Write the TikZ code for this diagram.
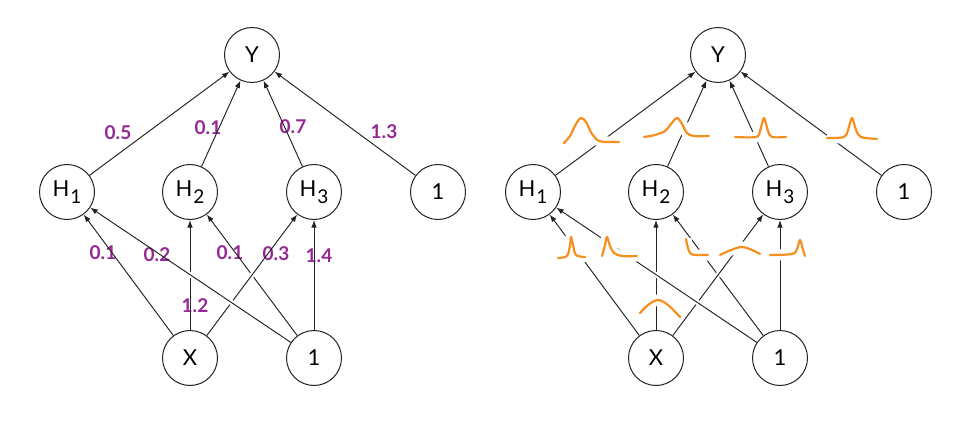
\documentclass[tikz,border=0pt]{standalone}
\usepackage{fontspec}
\setmainfont{Lato}
\usetikzlibrary{arrows.meta,calc}
\definecolor{wpurple}{RGB}{150,40,150}
\definecolor{bumpc}{RGB}{247,143,30}
\definecolor{lnc}{RGB}{35,35,35}
\newcommand\hsub[1]{H\hspace{1pt}\raisebox{-7pt}{\fontsize{19}{19}\selectfont #1}}
\newcommand\netdiagram[2]{%
\begin{scope}[xshift=#2]
\node[nd] (#1Y) at (252,55) {Y};
\node[nd] (#1H1) at (67,192) {\hsub{1}};
\node[nd] (#1H2) at (190,192) {\hsub{2}};
\node[nd] (#1H3) at (314,192) {\hsub{3}};
\node[nd] (#1B1) at (438,192) {1};
\node[nd] (#1X) at (190,358) {X};
\node[nd] (#1B2) at (314,358) {1};
\end{scope}
\draw[edge] (#1H1) -- (#1Y);
\draw[edge] (#1H2) -- (#1Y);
\draw[edge] (#1H3) -- (#1Y);
\draw[edge] (#1B1) -- (#1Y);
\draw[edge] (#1X) -- (#1H1);
\draw[edge] (#1B2) -- (#1H3);
\draw[edge] (#1B2) -- (#1H2);
\draw[gap] ($(#1X)!0.2!(#1H3)$) -- ($(#1X)!0.6!(#1H3)$);
\draw[edge] (#1X) -- (#1H3);
\draw[edge] (#1X) -- (#1H2);
\draw[gap] ($(#1B2)!0.2!(#1H1)$) -- ($(#1B2)!0.56!(#1H1)$);
\draw[edge] (#1B2) -- (#1H1);
}
\begin{document}
\begin{tikzpicture}[x=1pt,y=-1pt,
  nd/.style={circle,draw=lnc,line width=1pt,minimum size=55pt,inner sep=0pt,
    font=\fontsize{22}{22}\selectfont},
  edge/.style={draw=lnc,line width=0.95pt,-{Latex[length=7.5pt,width=5.5pt]}},
  gap/.style={draw=white,line width=5pt},
  wlab/.style={text=wpurple,inner sep=0pt,font=\bfseries\fontsize{19}{19}\selectfont},
  bumpln/.style={draw=bumpc,line width=2.2pt,line cap=round,line join=round,
    preaction={draw=white,line width=11pt}}]
\useasboundingbox[fill=white] (0,0) rectangle (968,422);
% weight labels (left)
\node[wlab] (w1) at (118,133) {0.5};
\node[wlab] (w2) at (208,128) {0.1};
\node[wlab] (w3) at (293,127) {0.7};
\node[wlab] (w4) at (384,132) {1.3};
\node[wlab] (w5) at (103,253) {0.1};
\node[wlab] (w6) at (157,255) {0.2};
\node[wlab] (w7) at (195,306) {1.2};
\node[wlab] (w8) at (230,253) {0.1};
\node[wlab] (w9) at (276,254) {0.3};
\node[wlab] (w10) at (319,256) {1.4};
\netdiagram{L}{0pt}
\netdiagram{R}{466pt}
% weight distributions (right)
\draw[bumpln] plot[smooth,tension=0.55] coordinates {(564,143) (570,136) (576,124) (581,118) (586,122) (592,134) (599,141) (608,142) (619,142)};
\draw[bumpln] plot[smooth,tension=0.55] coordinates {(644,137) (655,135) (665,131) (671,124) (677,118) (682,124) (687,133) (694,136) (709,136)};
\draw[bumpln] plot[smooth,tension=0.55] coordinates {(735,137) (756,137) (760,131) (764,118) (768,131) (772,137) (786,137)};
\draw[bumpln] plot[smooth,tension=0.55] coordinates {(827,138) (844,137) (848,130) (852,118) (856,130) (861,137) (877,139)};
\draw[bumpln] plot[smooth,tension=0.55] coordinates {(558,258) (567,256) (570,245) (571,237) (573,245) (576,255) (585,257)};
\draw[bumpln] plot[smooth,tension=0.55] coordinates {(602,256) (605,245) (607,237) (610,246) (614,253) (622,256) (637,256)};
\draw[bumpln] plot[smooth,tension=0.55] coordinates {(686,239) (688,248) (691,254) (698,255) (708,255)};
\draw[bumpln] plot[smooth,tension=0.55] coordinates {(720,255) (731,250) (742,247) (752,250) (760,254)};
\draw[bumpln] plot[smooth,tension=0.55] coordinates {(770,255) (792,254) (797,249) (800,240) (803,250) (805,256)};
\draw[bumpln] plot[smooth,tension=0.55] coordinates {(640,313) (648,305) (658,300) (668,305) (680,317)};
\end{tikzpicture}
\end{document}
